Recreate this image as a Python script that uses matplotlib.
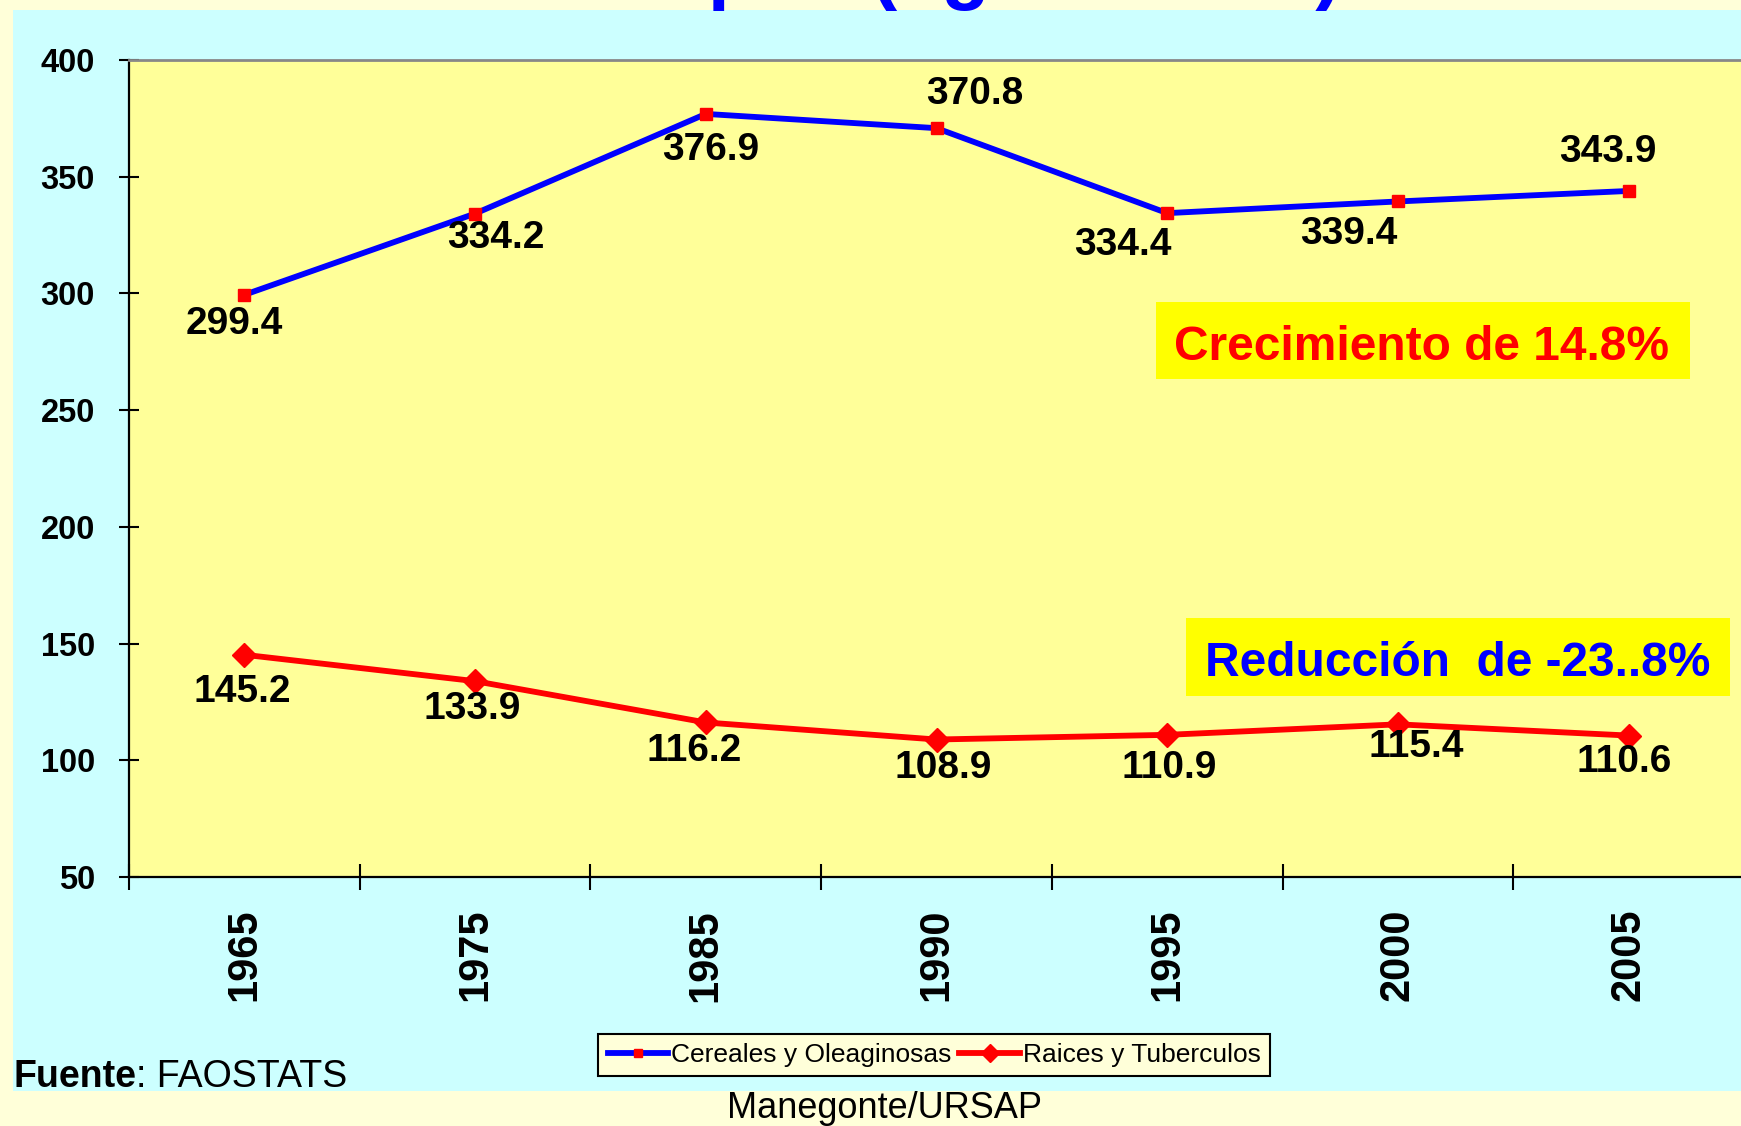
import matplotlib
matplotlib.use("Agg")
import matplotlib.pyplot as plt
from matplotlib.patches import Rectangle

plt.rcParams['font.family'] = ['Liberation Sans', 'DejaVu Sans']

# datos
anios = ["1965", "1975", "1985", "1990", "1995", "2000", "2005"]
cereales = [299.4, 334.2, 376.9, 370.8, 334.4, 339.4, 343.9]
raices = [145.2, 133.9, 116.2, 108.9, 110.9, 115.4, 110.6]
y_ticks = [50, 100, 150, 200, 250, 300, 350, 400]

# desplazamiento de las etiquetas (pixeles)
off_cereales = [(-10, -29), (21, -24), (5, -36), (38, 34), (-44, -32), (-49, -33), (-21, 39)]
off_raices = [(-2, -37), (-3, -28), (-12, -29), (7, -28), (2, -33), (18, -23), (-5, -26)]

W, H = 1741, 1126
fig = plt.figure(figsize=(W / 100, H / 100), dpi=100)
fig.patch.set_facecolor("#FFFFD9")

# fondo celeste
fig.patches.append(Rectangle((13 / W, 1 - 1091 / H), 1, (1091 - 10) / H,
                             transform=fig.transFigure, facecolor="#CCFFFF",
                             edgecolor="none", zorder=-1))

# titulo (cortado arriba)
fig.text(70 / W, 1 + 6 / H, "Consumo Per Capita (kg/hab/año)", color="#0000FF",
         fontsize=57, fontweight="bold", ha="left", va="baseline")

ax = fig.add_axes([129 / W, 1 - 877 / H, (1744 - 129) / W, (877 - 60) / H])
ax.set_facecolor("#FFFF99")

x = list(range(len(anios)))
ax.plot(x, cereales, color="#0000FF", lw=4.2, marker="s", ms=8.6,
        mfc="#FF0000", mec="#FF0000", label="Cereales y Oleaginosas", zorder=3)
ax.plot(x, raices, color="#FF0000", lw=4.2, marker="D", ms=12,
        mfc="#FF0000", mec="#FF0000", label="Raices y Tuberculos", zorder=3)

for i in x:
    ax.annotate(f"{cereales[i]:.1f}", (i, cereales[i]), xytext=off_cereales[i],
                textcoords="offset pixels", ha="center", va="center",
                fontsize=28, fontweight="bold", color="black")
    ax.annotate(f"{raices[i]:.1f}", (i, raices[i]), xytext=off_raices[i],
                textcoords="offset pixels", ha="center", va="center",
                fontsize=28, fontweight="bold", color="black")

ax.set_xlim(-0.5, 6.5)
ax.set_ylim(50, 400)
ax.set_yticks(y_ticks)
ax.set_yticklabels([str(v) for v in y_ticks], fontsize=23.5, fontweight="bold")
ax.set_xticks(x)
ax.set_xticklabels(anios, rotation=90, fontsize=30, fontweight="bold")
ax.set_xticks([i - 0.5 for i in range(len(anios))], minor=True)
ax.tick_params(axis="x", which="major", length=0, pad=23)
ax.tick_params(axis="x", which="minor", direction="inout", length=19, width=1.5)
ax.tick_params(axis="y", direction="inout", length=15, width=1.5, pad=17)

for s in ["left", "bottom"]:
    ax.spines[s].set_color("black")
    ax.spines[s].set_linewidth(1.6)
ax.spines["top"].set_color("#888888")
ax.spines["top"].set_linewidth(2)
ax.spines["right"].set_visible(False)

# cuadros de texto
fig.patches.append(Rectangle((1156 / W, 1 - 379 / H), (1690 - 1156) / W, 77 / H,
                             transform=fig.transFigure, facecolor="#FFFF00",
                             edgecolor="none", zorder=5))
fig.text(1422 / W, 1 - 347 / H, "Crecimiento de 14.8%", color="#FF0000",
         fontsize=34.5, fontweight="bold", ha="center", va="center", zorder=6)
fig.patches.append(Rectangle((1186 / W, 1 - 696 / H), (1730 - 1186) / W, 78 / H,
                             transform=fig.transFigure, facecolor="#FFFF00",
                             edgecolor="none", zorder=5))
fig.text(1458 / W, 1 - 663 / H, "Reducción  de -23..8%", color="#0000FF",
         fontsize=34.5, fontweight="bold", ha="center", va="center", zorder=6)

leg = fig.legend(loc="center", bbox_to_anchor=(934 / W, 1 - 1055 / H), ncol=2,
                 fontsize=19, frameon=True, fancybox=False, handlelength=2.3,
                 handletextpad=0.1, columnspacing=0.3, markerscale=0.75,
                 borderpad=0.35)
leg.get_frame().set_edgecolor("black")
leg.get_frame().set_linewidth(1.5)
leg.get_frame().set_facecolor("#FFFFD9")
leg.get_frame().set_alpha(1)

fuente = fig.text(13 / W, 1 - 1087 / H, "Fuente", fontsize=27, fontweight="bold",
                  ha="left", va="baseline")
plt.annotate(": FAOSTATS", xy=(1, 0), xycoords=fuente, fontsize=27,
             ha="left", va="bottom", annotation_clip=False)
fig.text(884 / W, 1 - 1109 / H, "Manegonte/URSAP", fontsize=26, ha="center", va="center")

fig.savefig("out.png", dpi=100, facecolor=fig.get_facecolor())
